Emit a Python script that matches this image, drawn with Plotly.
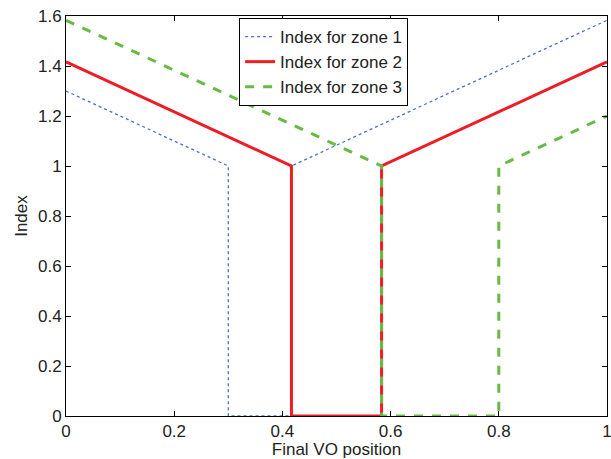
import plotly.graph_objects as go

# breakpoints
x_zone1 = [0, 0.3, 0.3, 0.4167, 0.4167, 1]
y_zone1 = [1.3, 1.0, 0, 0, 1.0, 1.583]

x_zone2 = [0, 0.4167, 0.4167, 0.5833, 0.5833, 1]
y_zone2 = [1.4167, 1.0, 0, 0, 1.0, 1.4167]

x_zone3 = [0, 0.5833, 0.5833, 0.8, 0.8, 1]
y_zone3 = [1.583, 1.0, 0, 0, 1.0, 1.2]

names = ["Index for zone 1", "Index for zone 2", "Index for zone 3"]

x_ticks = [0, 0.2, 0.4, 0.6, 0.8, 1]
x_ticklabels = ["0", "0.2", "0.4", "0.6", "0.8", "1"]
y_ticks = [0, 0.2, 0.4, 0.6, 0.8, 1, 1.2, 1.4, 1.6]
y_ticklabels = ["0", "0.2", "0.4", "0.6", "0.8", "1", "1.2", "1.4", "1.6"]

fig = go.Figure()
fig.add_trace(go.Scatter(x=x_zone1, y=y_zone1, mode="lines", name=names[0],
                         line=dict(color="#4f6fc8", width=1.3, dash="dot")))
fig.add_trace(go.Scatter(x=x_zone2, y=y_zone2, mode="lines", name=names[1],
                         line=dict(color="#ee1c24", width=3)))
fig.add_trace(go.Scatter(x=x_zone3, y=y_zone3, mode="lines", name=names[2],
                         line=dict(color="#66bb44", width=3, dash="dash")))

axis_common = dict(showline=True, linecolor="black", linewidth=1, mirror="ticks",
                   ticks="inside", ticklen=5, tickcolor="black", showgrid=False,
                   zeroline=False, tickfont=dict(size=17, color="#222"),
                   title_font=dict(size=17, color="#222"),
                   ticklabeloverflow="allow", automargin=False)

fig.update_layout(
    width=611, height=459,
    margin=dict(l=66, r=4, t=16, b=43),
    plot_bgcolor="white", paper_bgcolor="white",
    font=dict(family="Liberation Sans, Arial, sans-serif", color="#222"),
    showlegend=True,
    legend=dict(x=0.32, y=0.995, xanchor="left", yanchor="top",
                bgcolor="white", bordercolor="black", borderwidth=1,
                itemwidth=30,
                font=dict(size=17, color="#222"), tracegroupgap=0),
    xaxis=dict(range=[0, 1], tickvals=x_ticks, ticktext=x_ticklabels,
               title=dict(text="Final VO position", standoff=0), **axis_common),
    yaxis=dict(range=[0, 1.6], tickvals=y_ticks, ticktext=y_ticklabels,
               title=dict(text="Index", standoff=6), **axis_common),
)

fig.write_html("out.html")
